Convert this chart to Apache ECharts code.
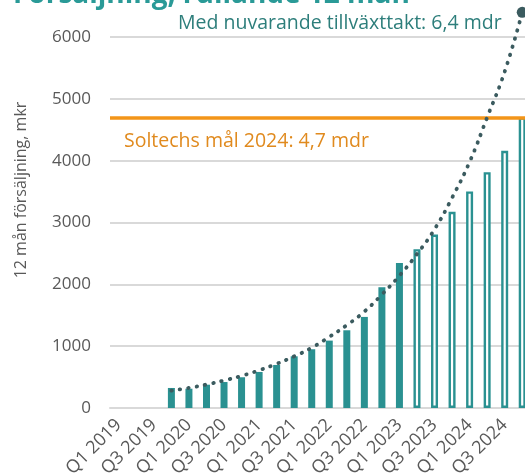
<!DOCTYPE html>
<html lang="sv">
<head>
    <meta charset="UTF-8">
    <title>Försäljning, rullande 12 mån</title>
    <script src="https://cdn.jsdelivr.net/npm/echarts@6/dist/echarts.min.js"></script>
    <style>
        html, body { margin: 0; padding: 0; overflow: hidden; background: #fff; }
        #main { width: 531px; height: 473px; }
    </style>
</head>
<body>
<div id="main"></div>
<script>
    // kvartal Q1 2019 - Q4 2024
    var quarters = ['Q1 2019','Q2 2019','Q3 2019','Q4 2019',
        'Q1 2020','Q2 2020','Q3 2020','Q4 2020',
        'Q1 2021','Q2 2021','Q3 2021','Q4 2021',
        'Q1 2022','Q2 2022','Q3 2022','Q4 2022',
        'Q1 2023','Q2 2023','Q3 2023','Q4 2023',
        'Q1 2024','Q2 2024','Q3 2024','Q4 2024'];
    // utfall (fyllda staplar)
    var actual = [null, null, null, 324,
        312, 377, 420, 497,
        583, 696, 836, 950,
        1090, 1257, 1473, 1953,
        2346, null, null, null,
        null, null, null, null];
    // prognos (ihåliga staplar)
    var forecast = [null, null, null, null,
        null, null, null, null,
        null, null, null, null,
        null, null, null, null,
        null, 2568, 2806, 3172,
        3502, 3814, 4159, 4700];
    // nuvarande tillväxttakt (prickad kurva)
    var trend = [null, null, null, 280,
        325, 380, 445, 520,
        610, 715, 835, 975,
        1150, 1340, 1560, 1835,
        2140, 2490, 2890, 3400,
        3980, 4700, 5440, 6400];
    var goal = 4700;
    var yTicks = [0, 6000, 1000];

    var teal = '#2a9191';
    var grey = '#595959';
    var font = 'Open Sans';

    var myChart = echarts.init(document.getElementById('main'));
    var option = {
        animation: false,
        textStyle: { fontFamily: font },
        grid: { left: 110, right: 0, top: 37, bottom: 65, containLabel: false, outerBoundsMode: 'none' },
        xAxis: {
            type: 'category',
            data: quarters,
            axisLine: { lineStyle: { color: '#d9d9d9', width: 2 } },
            axisTick: { show: false },
            axisLabel: { interval: 1, rotate: 45, fontSize: 18, color: grey, margin: 14 }
        },
        yAxis: {
            type: 'value',
            min: yTicks[0],
            max: yTicks[1],
            interval: yTicks[2],
            axisLine: { show: false },
            axisTick: { show: false },
            axisLabel: { fontSize: 17, color: grey, margin: 19, formatter: function (v) { return String(v); } },
            splitLine: { lineStyle: { color: '#d9d9d9', width: 2 } }
        },
        series: [
            {
                name: 'Utfall',
                type: 'bar',
                data: actual,
                barWidth: 7,
                barGap: '-100%',
                itemStyle: { color: teal }
            },
            {
                name: 'Prognos',
                type: 'bar',
                data: forecast,
                barWidth: 7,
                barGap: '-100%',
                itemStyle: { color: '#fff', borderColor: teal, borderWidth: 2.4 },
                markLine: {
                    silent: true,
                    symbol: 'none',
                    label: { show: false },
                    lineStyle: { color: '#f39519', width: 3.5, type: 'solid' },
                    data: [{ yAxis: goal }]
                }
            },
            {
                name: 'Trend',
                type: 'line',
                data: trend.map(function (v, i) {
                    if (i === trend.length - 1) {
                        return { value: v, symbol: 'circle', symbolSize: 11 };
                    }
                    return v;
                }),
                smooth: true,
                clip: false,
                symbol: 'none',
                showAllSymbol: true,
                itemStyle: { color: '#3b5b5f' },
                lineStyle: { color: '#3b5b5f', width: 3.8, type: [0.5, 8], cap: 'round' },
                z: 5
            }
        ],
        graphic: [
            {
                type: 'text', left: 13, top: -19,
                style: { text: 'Försäljning, rullande 12 mån', font: 'bold 28px "Open Sans"', fill: '#2a9a97' }
            },
            {
                type: 'text', x: 178, y: 23,
                style: { text: 'Med nuvarande tillväxttakt: 6,4 mdr', font: '19.5px "Open Sans"', fill: '#2d7e7b', verticalAlign: 'middle' }
            },
            {
                type: 'text', x: 124, y: 141,
                style: { text: 'Soltechs mål 2024: 4,7 mdr', font: '19.5px "Open Sans"', fill: '#e08a1e', verticalAlign: 'middle' }
            },
            {
                type: 'text', x: 21, y: 190, rotation: Math.PI / 2,
                style: { text: '12 mån försäljning, mkr', font: '16px "Open Sans"', fill: grey, align: 'center', verticalAlign: 'middle' }
            }
        ]
    };
    myChart.setOption(option);
</script>
</body>
</html>
